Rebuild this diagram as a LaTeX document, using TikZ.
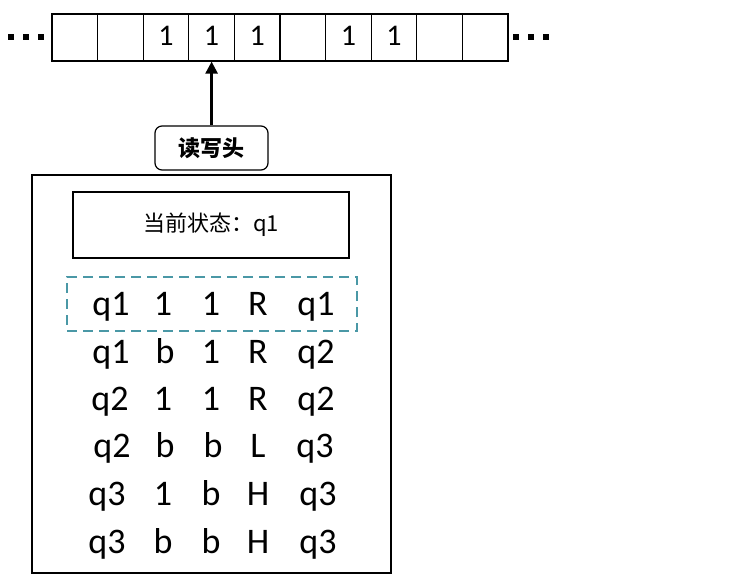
\documentclass[tikz,border=0pt]{standalone}
\usepackage{fontspec}
\setmainfont{Carlito}
\newfontfamily\cjk{Noto Sans CJK SC}
\usetikzlibrary{arrows.meta}
\definecolor{teal1}{HTML}{4A98A6}
\tikzset{
  cell/.style={draw, line width=1.2pt, minimum width=45.6pt, minimum height=47pt, inner sep=0pt},
  celltext/.style={font=\fontsize{30}{32}\selectfont, inner sep=0pt, anchor=base},
  dot/.style={fill=black, minimum size=6pt, inner sep=0pt},
  tbl/.style={font=\fontsize{36}{38}\selectfont, inner sep=0pt, anchor=base},
}
\begin{document}
\begin{tikzpicture}[x=1pt,y=-1pt]
\useasboundingbox (0,0) rectangle (732,578);
% tape
\foreach \i in {0,...,9}{
  \node[cell] (c\i) at ({52+45.6*\i+22.8},37.5) {};
}
\foreach \i in {2,3,4,6,7}{
  \node[celltext] (d\i) at ({52+45.6*\i+22.8},46) {1};
}
\foreach \x in {11,26,41} \node[dot] (l\x) at (\x,37) {};
\foreach \x in {516,531,546} \node[dot] (r\x) at (\x,37) {};
% head
\node[draw, line width=1.2pt, rounded corners=7pt, minimum width=113pt, minimum height=44pt, font=\cjk\bfseries\fontsize{22}{24}\selectfont] (head) at (211.5,148) {读写头};
\draw[line width=2.5pt, -{Triangle[length=12pt,width=12pt]}] (head.north -| c3.south) -- (c3.south);
% machine box
\node[draw, line width=2pt, minimum width=359pt, minimum height=398pt, inner sep=0pt] (box) at (211.5,374) {};
\node[draw, line width=2pt, minimum width=276pt, minimum height=66pt, inner sep=0pt, font=\cjk\fontsize{22}{24}\selectfont] (state) at (211,225) {当前状态：q1};
\node[draw=teal1, line width=1.3pt, dash pattern=on 10pt off 6pt, minimum width=290pt, minimum height=54pt, inner sep=0pt] (cur) at (212,304) {};
% table
\foreach \r/\y/\a/\xa/\b/\xb/\c/\xc/\d/\xd/\e/\xe in {
  1/315/q1/111/1/163/1/211/R/258/q1/316,
  2/363/q1/111/b/165/1/211/R/258/q2/316,
  3/410/q2/110/1/163/1/211/R/258/q2/316,
  4/457/q2/112/b/165/b/213/L/258/q3/315,
  5/505/q3/107/1/163/b/211/H/258/q3/318,
  6/553/q3/107/b/163/b/211/H/258/q3/318}{
  \node[tbl] (t\r a) at (\xa,\y) {\a};
  \node[tbl] (t\r b) at (\xb,\y) {\b};
  \node[tbl] (t\r c) at (\xc,\y) {\c};
  \node[tbl] (t\r d) at (\xd,\y) {\d};
  \node[tbl] (t\r e) at (\xe,\y) {\e};
}
\end{tikzpicture}
\end{document}
